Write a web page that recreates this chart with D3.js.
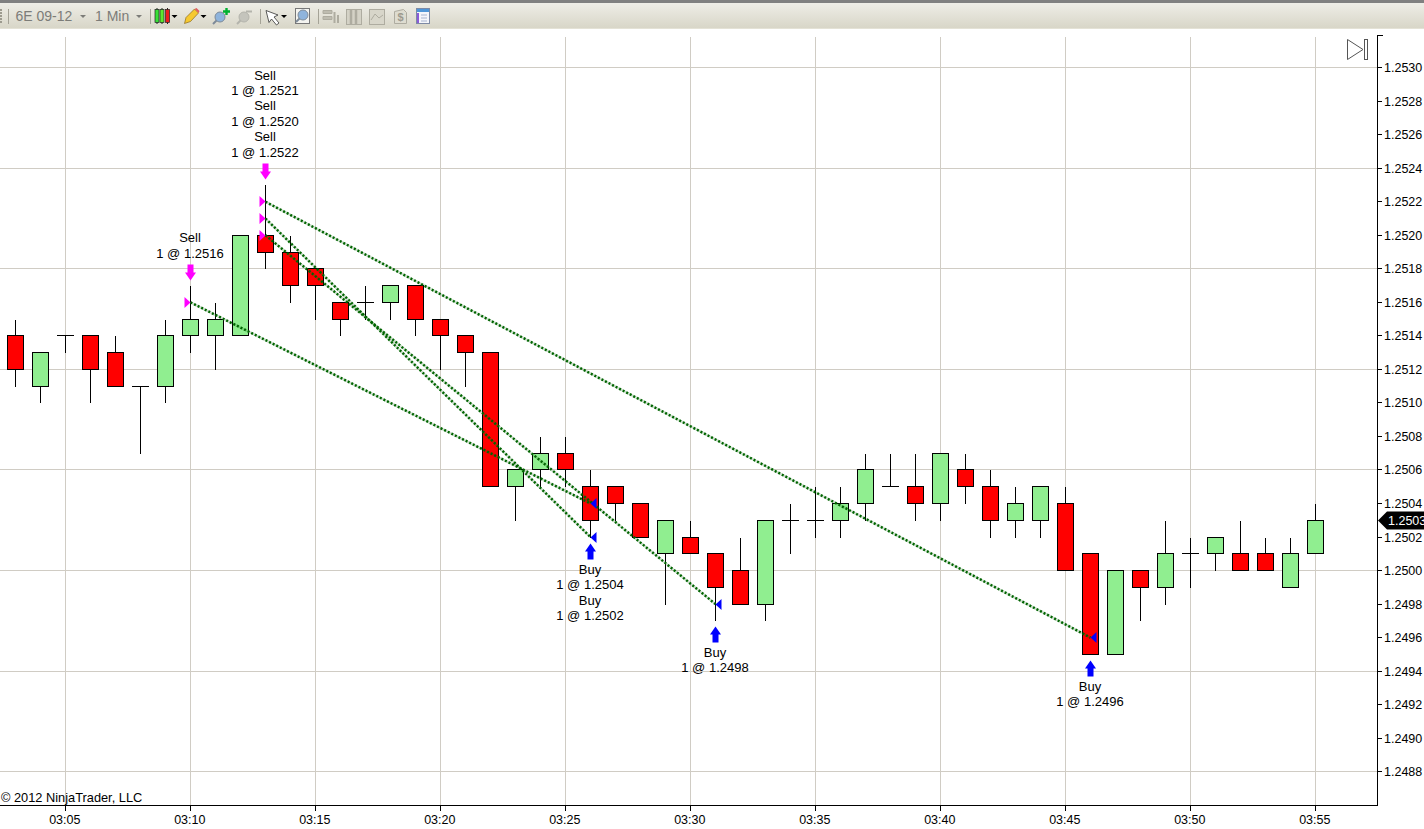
<!DOCTYPE html>
<html>
<head>
<meta charset="utf-8">
<title>6E 09-12 1 Min</title>
<script src="https://d3js.org/d3.v7.min.js"></script>
<style>
    html, body { margin: 0; padding: 0; background: #fff; overflow: hidden; }
    svg { display: block; }
    text { font-family: "Liberation Sans", Arial, sans-serif; fill: #000; }
    .tick text { font-size: 12.5px; }
    .label { font-size: 13px; text-anchor: middle; }
</style>
</head>
<body>
<div class="chart"></div>
<script>
    // one bar per minute
    var barTimes = ["03:03","03:04","03:05","03:06","03:07","03:08","03:09","03:10","03:11","03:12",
        "03:13","03:14","03:15","03:16","03:17","03:18","03:19","03:20","03:21","03:22",
        "03:23","03:24","03:25","03:26","03:27","03:28","03:29","03:30","03:31","03:32",
        "03:33","03:34","03:35","03:36","03:37","03:38","03:39","03:40","03:41","03:42",
        "03:43","03:44","03:45","03:46","03:47","03:48","03:49","03:50","03:51","03:52",
        "03:53","03:54","03:55"];
    var opens = [1.2514,1.2511,1.2514,1.2514,1.2513,1.2511,1.2511,1.2514,1.2514,1.2514,
        1.2520,1.2519,1.2518,1.2516,1.2516,1.2516,1.2517,1.2515,1.2514,1.2513,
        1.2505,1.2506,1.2507,1.2505,1.2505,1.2504,1.2501,1.2502,1.2501,1.2500,
        1.2498,1.2503,1.2503,1.2503,1.2504,1.2505,1.2505,1.2504,1.2506,1.2505,
        1.2503,1.2503,1.2504,1.2501,1.2495,1.2500,1.2499,1.2501,1.2501,1.2501,
        1.2501,1.2499,1.2501];
    var highs = [1.2515,1.2513,1.2514,1.2514,1.2514,1.2511,1.2515,1.2517,1.2516,1.2520,
        1.2523,1.2520,1.2518,1.2516,1.2517,1.2517,1.2517,1.2515,1.2514,1.2513,
        1.2506,1.2508,1.2508,1.2506,1.2505,1.2504,1.2503,1.2503,1.2501,1.2502,
        1.2503,1.2504,1.2505,1.2505,1.2507,1.2507,1.2507,1.2507,1.2507,1.2506,
        1.2505,1.2505,1.2505,1.2501,1.2500,1.2500,1.2503,1.2502,1.2502,1.2503,
        1.2502,1.2502,1.2504];
    var lows = [1.2511,1.2510,1.2513,1.2510,1.2511,1.2507,1.2510,1.2513,1.2512,1.2514,
        1.2518,1.2516,1.2515,1.2514,1.2515,1.2515,1.2514,1.2512,1.2511,1.2505,
        1.2503,1.2505,1.2505,1.2502,1.2503,1.2502,1.2498,1.2501,1.2497,1.2498,
        1.2497,1.2501,1.2502,1.2502,1.2503,1.2505,1.2503,1.2503,1.2504,1.2502,
        1.2502,1.2502,1.2500,1.2495,1.2495,1.2497,1.2498,1.2499,1.2500,1.2500,
        1.2500,1.2499,1.2501];
    var closes = [1.2512,1.2513,1.2514,1.2512,1.2511,1.2511,1.2514,1.2515,1.2515,1.2520,
        1.2519,1.2517,1.2517,1.2515,1.2516,1.2517,1.2515,1.2514,1.2513,1.2505,
        1.2506,1.2507,1.2506,1.2503,1.2504,1.2502,1.2503,1.2501,1.2499,1.2498,
        1.2503,1.2503,1.2503,1.2504,1.2506,1.2505,1.2504,1.2507,1.2505,1.2503,
        1.2504,1.2505,1.2500,1.2495,1.2500,1.2499,1.2501,1.2501,1.2502,1.2500,
        1.2500,1.2501,1.2503];

    // round trips, entry i goes with exit i
    var sellTimes = ["03:10","03:13","03:13","03:13"];
    var sellPrices = [1.2516,1.2522,1.2521,1.2520];
    var buyTimes = ["03:26","03:46","03:26","03:31"];
    var buyPrices = [1.2504,1.2496,1.2502,1.2498];

    // text stacks next to the arrows
    var sellLabelTimes = ["03:10","03:13"];
    var sellLabelPrices = [[1.2516],[1.2521,1.2520,1.2522]];
    var buyLabelTimes = ["03:26","03:31","03:46"];
    var buyLabelPrices = [[1.2504,1.2502],[1.2498],[1.2496]];

    var priceTicks = [1.2530,1.2528,1.2526,1.2524,1.2522,1.2520,1.2518,1.2516,1.2514,1.2512,1.2510,
        1.2508,1.2506,1.2504,1.2502,1.2500,1.2498,1.2496,1.2494,1.2492,1.2490,1.2488];
    var priceGrid = [1.2530,1.2524,1.2518,1.2512,1.2506,1.2500,1.2494,1.2488];
    var timeTicks = ["03:05","03:10","03:15","03:20","03:25","03:30","03:35","03:40","03:45","03:50","03:55"];
    var lastPrice = 1.2503;

    var width = 1424, height = 829;
    var plotRight = 1377, plotBottom = 805, plotTop = 35;
    var parseTime = d3.utcParse("%H:%M");
    var gridColor = "#d0ccc4";

    var x = d3.scaleUtc().domain([parseTime("03:05"), parseTime("03:55")]).range([65, 1315]);
    var y = d3.scaleLinear().domain([1.2488, 1.2530]).range([771.25, 67.15]);

    function px(t) { return x(parseTime(t)) + 0.5; }
    function py(p) { return Math.round(y(p)) + 0.5; }

    var svg = d3.select(".chart").append("svg")
        .attr("width", width)
        .attr("height", height);

    var defs = svg.append("defs");
    var grad = defs.append("linearGradient").attr("id", "bar").attr("x2", 0).attr("y2", 1);
    grad.append("stop").attr("offset", 0).attr("stop-color", "#f1f0ea");
    grad.append("stop").attr("offset", 1).attr("stop-color", "#d8d6c8");

    // grid
    var grid = svg.append("g").attr("shape-rendering", "crispEdges");
    grid.selectAll(".h").data(priceGrid).enter().append("line")
        .attr("x1", 0).attr("x2", plotRight)
        .attr("y1", py).attr("y2", py)
        .attr("stroke", gridColor);
    grid.selectAll(".v").data(timeTicks).enter().append("line")
        .attr("x1", px).attr("x2", px)
        .attr("y1", 37).attr("y2", plotBottom)
        .attr("stroke", gridColor);

    // candles
    var bars = svg.append("g").attr("shape-rendering", "crispEdges")
        .selectAll("g").data(barTimes).enter().append("g");
    bars.append("line")
        .attr("x1", px).attr("x2", px)
        .attr("y1", function(d, i) { return py(highs[i]); })
        .attr("y2", function(d, i) { return py(lows[i]) + 0.5; })
        .attr("stroke", "#000");
    bars.filter(function(d, i) { return opens[i] != closes[i]; }).append("rect")
        .attr("x", function(d) { return px(d) - 8; })
        .attr("y", function(d) { var i = barTimes.indexOf(d); return py(Math.max(opens[i], closes[i])); })
        .attr("width", 16)
        .attr("height", function(d) { var i = barTimes.indexOf(d); return py(Math.min(opens[i], closes[i])) - py(Math.max(opens[i], closes[i])); })
        .attr("fill", function(d) { var i = barTimes.indexOf(d); return closes[i] > opens[i] ? "#90ee90" : "#ff0000"; })
        .attr("stroke", "#000");
    // open == close, just a dash
    bars.filter(function(d, i) { return opens[i] == closes[i]; }).append("line")
        .attr("x1", function(d) { return px(d) - 8.5; })
        .attr("x2", function(d) { return px(d) + 8.5; })
        .attr("y1", function(d) { return py(opens[barTimes.indexOf(d)]); })
        .attr("y2", function(d) { return py(opens[barTimes.indexOf(d)]); })
        .attr("stroke", "#000");

    // execution lines
    var trades = svg.append("g");
    trades.selectAll(".halo").data(sellTimes).enter().append("line")
        .attr("x1", px)
        .attr("y1", function(d, i) { return y(sellPrices[i]) + 0.5; })
        .attr("x2", function(d, i) { return px(buyTimes[i]); })
        .attr("y2", function(d, i) { return y(buyPrices[i]) + 0.5; })
        .attr("stroke", "#006400").attr("stroke-opacity", 0.2).attr("stroke-width", 2.5);
    trades.selectAll(".dots").data(sellTimes).enter().append("line")
        .attr("x1", px)
        .attr("y1", function(d, i) { return y(sellPrices[i]) + 0.5; })
        .attr("x2", function(d, i) { return px(buyTimes[i]); })
        .attr("y2", function(d, i) { return y(buyPrices[i]) + 0.5; })
        .attr("stroke", "#006400").attr("stroke-width", 2.5).attr("stroke-dasharray", "2 2");

    // entry and exit triangles
    trades.selectAll(".entry").data(sellTimes).enter().append("path")
        .attr("d", function(d, i) {
            var cx = px(d), cy = py(sellPrices[i]);
            return "M" + (cx - 6) + "," + (cy - 5.5) + "L" + cx + "," + cy + "L" + (cx - 6) + "," + (cy + 5.5) + "Z";
        })
        .attr("fill", "#ff00ff");
    trades.selectAll(".exit").data(buyTimes).enter().append("path")
        .attr("d", function(d, i) {
            var cx = px(d), cy = py(buyPrices[i]);
            return "M" + (cx + 6) + "," + (cy - 5.5) + "L" + cx + "," + cy + "L" + (cx + 6) + "," + (cy + 5.5) + "Z";
        })
        .attr("fill", "#0000ff");

    // dir 1 = points down, -1 = points up, tip at (cx, tipY)
    function arrow(cx, tipY, dir) {
        var b = tipY - dir * 8, e = tipY - dir * 16;
        return "M" + cx + "," + tipY + "L" + (cx - 5.5) + "," + b + "L" + (cx - 3) + "," + b +
            "L" + (cx - 3) + "," + e + "L" + (cx + 3) + "," + e + "L" + (cx + 3) + "," + b +
            "L" + (cx + 5.5) + "," + b + "Z";
    }

    var lineGap = 15.4;
    sellLabelTimes.forEach(function(t) {
        var i = barTimes.indexOf(t);
        var tip = py(highs[i]) - 5;
        svg.append("path").attr("d", arrow(px(t), tip, 1)).attr("fill", "#ff00ff");
        var prices = sellLabelPrices[sellLabelTimes.indexOf(t)];
        var last = tip - 23;
        prices.forEach(function(p, k) {
            var base = last - (prices.length - 1 - k) * 2 * lineGap;
            svg.append("text").attr("class", "label").attr("x", px(t) - 0.5).attr("y", base - lineGap).text("Sell");
            svg.append("text").attr("class", "label").attr("x", px(t) - 0.5).attr("y", base).text("1 @ " + p.toFixed(4));
        });
    });
    buyLabelTimes.forEach(function(t) {
        var i = barTimes.indexOf(t);
        var tip = py(lows[i]) + 6;
        svg.append("path").attr("d", arrow(px(t), tip, -1)).attr("fill", "#0000ff");
        var prices = buyLabelPrices[buyLabelTimes.indexOf(t)];
        var first = tip + 30.5;
        prices.forEach(function(p, k) {
            var base = first + k * 2 * lineGap;
            svg.append("text").attr("class", "label").attr("x", px(t) - 0.5).attr("y", base).text("Buy");
            svg.append("text").attr("class", "label").attr("x", px(t) - 0.5).attr("y", base + lineGap).text("1 @ " + p.toFixed(4));
        });
    });

    // axes
    var yAxis = d3.axisRight(y).tickValues(priceTicks).tickSize(5).tickPadding(2)
        .tickFormat(function(d) { return d.toFixed(4); });
    svg.append("g")
        .attr("transform", "translate(" + plotRight + ",0)")
        .attr("shape-rendering", "crispEdges")
        .call(yAxis)
        .call(function(g) {
            g.select(".domain").remove();
            g.selectAll(".tick").attr("transform", function(d) { return "translate(0," + py(d) + ")"; });
        });

    var xAxis = d3.axisBottom(x).tickValues(timeTicks.map(parseTime)).tickSize(6).tickPadding(4)
        .tickFormat(d3.utcFormat("%H:%M"));
    svg.append("g")
        .attr("transform", "translate(0," + plotBottom + ")")
        .attr("shape-rendering", "crispEdges")
        .call(xAxis)
        .call(function(g) {
            g.select(".domain").remove();
            g.selectAll(".tick text").attr("dx", -0.7);
        });

    var frame = svg.append("g").attr("shape-rendering", "crispEdges").attr("stroke", "#000");
    frame.append("line").attr("x1", plotRight + 0.5).attr("x2", plotRight + 0.5).attr("y1", plotTop).attr("y2", plotBottom + 1);
    frame.append("line").attr("x1", 0).attr("x2", plotRight + 1).attr("y1", plotBottom + 0.5).attr("y2", plotBottom + 0.5);
    frame.append("line").attr("x1", plotRight).attr("x2", plotRight + 6).attr("y1", plotTop + 0.5).attr("y2", plotTop + 0.5);

    // last price tag
    var tagY = py(lastPrice);
    svg.append("path")
        .attr("d", "M" + (plotRight + 1) + "," + tagY + "L" + (plotRight + 10) + "," + (tagY - 9) +
            "L" + width + "," + (tagY - 9) + "L" + width + "," + (tagY + 9) + "L" + (plotRight + 10) + "," + (tagY + 9) + "Z")
        .attr("fill", "#000");
    svg.append("text").attr("x", plotRight + 11).attr("y", tagY + 4.5)
        .style("font-size", "12.5px").style("fill", "#fff").text(lastPrice.toFixed(4));

    // scroll to end button
    var skip = svg.append("g").attr("fill", "none").attr("stroke", "#555");
    skip.append("path").attr("d", "M1347.5,39.5L1363,49.5L1347.5,59.5Z");
    skip.append("rect").attr("x", 1364.5).attr("y", 39.5).attr("width", 3).attr("height", 20);

    svg.append("text").attr("x", 1).attr("y", 802).style("font-size", "12.8px").text("\u00a9 2012 NinjaTrader, LLC");

    // toolbar
    var bar = svg.append("g");
    bar.append("rect").attr("width", width).attr("height", 28).attr("fill", "url(#bar)");
    bar.append("rect").attr("width", width).attr("height", 3).attr("fill", "#808080");
    bar.append("rect").attr("y", 28).attr("width", width).attr("height", 1).attr("fill", "#e4e2d6");

    [8, 150, 260, 318].forEach(function(s) {
        bar.append("line").attr("x1", s + 0.5).attr("x2", s + 0.5).attr("y1", 9).attr("y2", 24).attr("stroke", "#a5a397");
    });
    [9, 12, 15, 18, 21].forEach(function(gy) {
        bar.append("rect").attr("x", 0).attr("y", gy).attr("width", 2).attr("height", 2).attr("fill", "#9c9a8e");
    });
    bar.append("text").attr("x", 15.5).attr("y", 21).style("font-size", "14px").style("fill", "#7c7c78").text("6E 09-12");
    bar.append("text").attr("x", 95).attr("y", 21).style("font-size", "14px").style("fill", "#7c7c78").text("1 Min");

    function drop(cx, color) {
        bar.append("path").attr("d", "M" + (cx - 3) + ",15L" + (cx + 3) + ",15L" + cx + ",18Z").attr("fill", color);
    }
    drop(83, "#7c7c78"); drop(139, "#7c7c78"); drop(174.5, "#000"); drop(203.5, "#000"); drop(284, "#000");

    // candle icon
    [[157, "#38e038"], [162, "#5ce82e"], [167.5, "#ee1c1c"]].forEach(function(c) {
        bar.append("line").attr("x1", c[0]).attr("x2", c[0]).attr("y1", 8).attr("y2", 24).attr("stroke", "#222");
        bar.append("rect").attr("x", c[0] - 2).attr("y", 9.5).attr("width", 4).attr("height", 13)
            .attr("fill", c[1]).attr("stroke", "#222").attr("stroke-width", 0.7);
    });
    // pencil icon
    bar.append("path").attr("d", "M184.5,23.5L186,17.5L194.5,9L198.5,13L190.5,21.5Z").attr("fill", "#f6c930").attr("stroke", "#8a6a20").attr("stroke-width", 0.7);
    bar.append("path").attr("d", "M194.5,9L198.5,13L199.5,11L196.5,8Z").attr("fill", "#e06060");
    // zoom icons
    function lens(cx, cy, color, line) {
        bar.append("line").attr("x1", cx - 3).attr("y1", cy + 3).attr("x2", cx - 7).attr("y2", cy + 7).attr("stroke", line).attr("stroke-width", 2);
        bar.append("circle").attr("cx", cx).attr("cy", cy).attr("r", 5).attr("fill", color).attr("stroke", line);
    }
    lens(220, 17, "#8fb4dc", "#7d8a98");
    bar.append("path").attr("d", "M223,11.5h7M226.5,8v7").attr("stroke", "#00b030").attr("stroke-width", 2.4);
    lens(244, 17, "#c4c4bc", "#b4b4ac");
    bar.append("path").attr("d", "M246,11.5h6").attr("stroke", "#b4b4ac").attr("stroke-width", 2);
    // pointer
    bar.append("path").attr("d", "M266,10.5L278,15L274,17L279,23L276.5,25L271.5,19L269,22.5Z").attr("fill", "#fff").attr("stroke", "#333").attr("stroke-width", 0.8);
    // magnifier box
    bar.append("rect").attr("x", 295.5).attr("y", 8.5).attr("width", 14).attr("height", 15).attr("fill", "#f4f4f0").attr("stroke", "#777");
    lens(303, 15, "#8fb4dc", "#7d8a98");
    // greyed out buttons
    var grey = bar.append("g").attr("fill", "none").attr("stroke", "#aeaca0");
    grey.append("path").attr("d", "M323,10.5h9v3h-9zM323,16.5h9v3h-9z").attr("fill", "#bebcb0");
    grey.append("path").attr("d", "M334.5,12v11M338,15v8").attr("stroke-width", 2);
    grey.append("rect").attr("x", 346.5).attr("y", 9.5).attr("width", 15).attr("height", 15).attr("fill", "#d4d2c6");
    grey.append("path").attr("d", "M351,10v14M356,10v14").attr("stroke-width", 2.5);
    grey.append("rect").attr("x", 369.5).attr("y", 9.5).attr("width", 15).attr("height", 15).attr("fill", "#d8d6ca");
    grey.append("path").attr("d", "M371,20L375,14L379,18L383,15");
    grey.append("path").attr("d", "M394.5,11.5l9,-2l3,3v11h-12z").attr("fill", "#dedcd0");
    grey.append("text").attr("x", 397.5).attr("y", 21).style("font-size", "11px").style("font-weight", "bold").style("fill", "#9c9a8e").attr("stroke", "none").text("$");
    // data box
    bar.append("rect").attr("x", 416.5).attr("y", 8.5).attr("width", 13).attr("height", 15).attr("fill", "#f4f6fb").attr("stroke", "#7d8aa5");
    bar.append("rect").attr("x", 417).attr("y", 9).attr("width", 12).attr("height", 3).attr("fill", "#4f96d8");
    bar.append("rect").attr("x", 417).attr("y", 13).attr("width", 2).attr("height", 10).attr("fill", "#8a5cd8");
    bar.append("path").attr("d", "M421,15h6M421,18h6M421,21h6").attr("stroke", "#a8b4d0");
</script>
</body>
</html>
